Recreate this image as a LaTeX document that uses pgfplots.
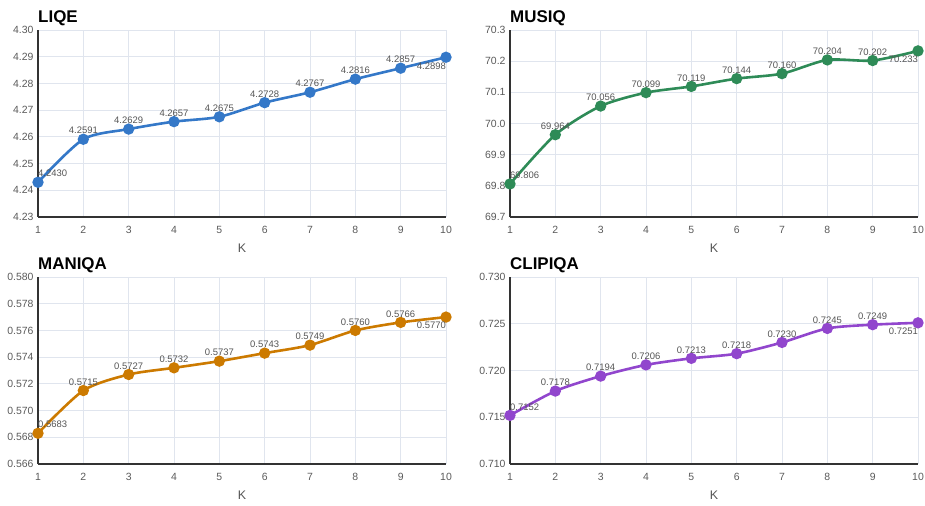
\documentclass[border=0pt]{standalone}
\usepackage{pgfplots}
\pgfplotsset{compat=1.18}
\usepackage{fontspec}
\setmainfont{Liberation Sans}
\definecolor{cblue}{RGB}{52,120,200}
\definecolor{cgreen}{RGB}{46,139,87}
\definecolor{corange}{RGB}{204,122,0}
\definecolor{cpurple}{RGB}{145,70,205}
\definecolor{gridc}{RGB}{224,229,238}
\definecolor{tickc}{RGB}{90,90,90}
\definecolor{labc}{RGB}{85,85,85}
\pgfplotsset{
  panel/.style={
    scale only axis, width=408bp, height=187bp,
    anchor=south west,
    xmin=1, xmax=10, xtick={1,...,10},
    axis x line*=bottom, axis y line*=left,
    axis line style={black!80, line width=1.2bp},
    major tick length=0,
    grid=major, major grid style={gridc, line width=0.8bp},
    tick label style={font=\fontsize{10.5}{12}\selectfont, text=tickc},
    /pgf/number format/assume math mode=true,
    xticklabel style={yshift=-6bp},
    yticklabel style={xshift=-1bp},
    xlabel={K},
    x label style={at={(axis description cs:0.5,0)}, anchor=center, yshift=-31bp, font=\fontsize{12.5}{14}\selectfont, text=labc},
    title style={at={(axis description cs:0,1)}, anchor=base west, yshift=2bp, inner sep=0pt, font=\fontsize{17}{19}\selectfont\bfseries},
    clip=false,
  },
  ln/.style={line width=2.6bp, smooth, tension=0.45, mark=*, mark size=4.3bp, mark options={solid}},
  lab/.style={draw=none, mark=none, nodes near coords, point meta=explicit symbolic,
    every node near coord/.append style={font=\fontsize{9.5}{11}\selectfont, text=labc, inner sep=1bp}},
  labmid/.style={lab, every node near coord/.append style={anchor=south, yshift=4bp}},
  labfirst/.style={lab, every node near coord/.append style={anchor=south west, xshift=-1bp, yshift=4bp}},
  lablast/.style={lab, every node near coord/.append style={anchor=north east, xshift=1bp, yshift=-4bp}},
}
\begin{document}
\begin{tikzpicture}
\useasboundingbox (0bp,0bp) rectangle (925bp,506bp);
% LIQE
\begin{axis}[panel, at={(38bp,289bp)}, title={LIQE}, ymin=4.23, ymax=4.30, ytick={4.23,4.24,...,4.301},
  yticklabel style={/pgf/number format/.cd, fixed, fixed zerofill, precision=2}]
\addplot[ln, color=cblue] coordinates {(1,4.2430) (2,4.2591) (3,4.2629) (4,4.2657) (5,4.2675) (6,4.2728) (7,4.2767) (8,4.2816) (9,4.2857) (10,4.2898)};
\addplot[labfirst] coordinates {(1,4.2430) [4.2430]};
\addplot[labmid] coordinates {(2,4.2591) [4.2591] (3,4.2629) [4.2629] (4,4.2657) [4.2657] (5,4.2675) [4.2675] (6,4.2728) [4.2728] (7,4.2767) [4.2767] (8,4.2816) [4.2816] (9,4.2857) [4.2857]};
\addplot[lablast] coordinates {(10,4.2898) [4.2898]};
\end{axis}
% MUSIQ
\begin{axis}[panel, at={(510bp,289bp)}, title={MUSIQ}, ymin=69.7, ymax=70.3, ytick={69.7,69.8,69.9,70.0,70.1,70.2,70.3},
  yticklabel style={/pgf/number format/.cd, fixed, fixed zerofill, precision=1}]
\addplot[ln, color=cgreen] coordinates {(1,69.806) (2,69.964) (3,70.056) (4,70.099) (5,70.119) (6,70.144) (7,70.160) (8,70.204) (9,70.202) (10,70.233)};
\addplot[labfirst] coordinates {(1,69.806) [69.806]};
\addplot[labmid] coordinates {(2,69.964) [69.964] (3,70.056) [70.056] (4,70.099) [70.099] (5,70.119) [70.119] (6,70.144) [70.144] (7,70.160) [70.160] (8,70.204) [70.204] (9,70.202) [70.202]};
\addplot[lablast] coordinates {(10,70.233) [70.233]};
\end{axis}
% MANIQA
\begin{axis}[panel, at={(38bp,42bp)}, title={MANIQA}, ymin=0.566, ymax=0.580, ytick={0.566,0.568,0.570,0.572,0.574,0.576,0.578,0.580},
  yticklabel style={/pgf/number format/.cd, fixed, fixed zerofill, precision=3}]
\addplot[ln, color=corange] coordinates {(1,0.5683) (2,0.5715) (3,0.5727) (4,0.5732) (5,0.5737) (6,0.5743) (7,0.5749) (8,0.5760) (9,0.5766) (10,0.5770)};
\addplot[labfirst] coordinates {(1,0.5683) [0.5683]};
\addplot[labmid] coordinates {(2,0.5715) [0.5715] (3,0.5727) [0.5727] (4,0.5732) [0.5732] (5,0.5737) [0.5737] (6,0.5743) [0.5743] (7,0.5749) [0.5749] (8,0.5760) [0.5760] (9,0.5766) [0.5766]};
\addplot[lablast] coordinates {(10,0.5770) [0.5770]};
\end{axis}
% CLIPIQA
\begin{axis}[panel, at={(510bp,42bp)}, title={CLIPIQA}, ymin=0.710, ymax=0.730, ytick={0.710,0.715,0.720,0.725,0.730},
  yticklabel style={/pgf/number format/.cd, fixed, fixed zerofill, precision=3}]
\addplot[ln, color=cpurple] coordinates {(1,0.7152) (2,0.7178) (3,0.7194) (4,0.7206) (5,0.7213) (6,0.7218) (7,0.7230) (8,0.7245) (9,0.7249) (10,0.7251)};
\addplot[labfirst] coordinates {(1,0.7152) [0.7152]};
\addplot[labmid] coordinates {(2,0.7178) [0.7178] (3,0.7194) [0.7194] (4,0.7206) [0.7206] (5,0.7213) [0.7213] (6,0.7218) [0.7218] (7,0.7230) [0.7230] (8,0.7245) [0.7245] (9,0.7249) [0.7249]};
\addplot[lablast] coordinates {(10,0.7251) [0.7251]};
\end{axis}
\end{tikzpicture}
\end{document}
